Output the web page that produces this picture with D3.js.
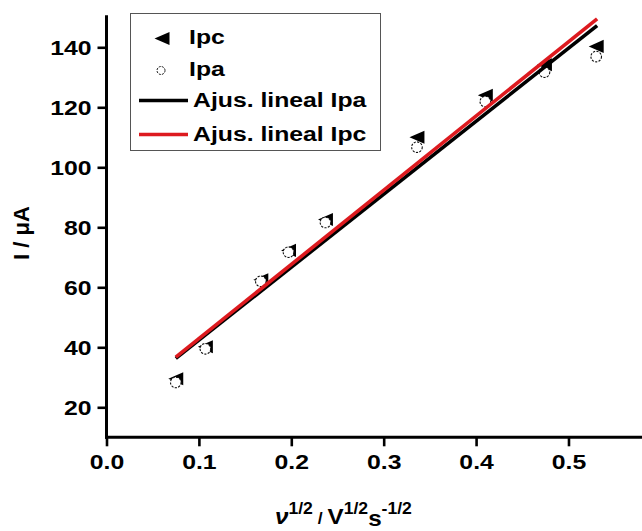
<!DOCTYPE html>
<html>
<head>
<meta charset="utf-8">
<script src="https://cdn.jsdelivr.net/npm/d3@7"></script>
<style>
  html, body { margin: 0; padding: 0; background: #fff; }
  svg { display: block; font-family: "Liberation Sans", Arial, sans-serif; font-weight: bold; }
</style>
</head>
<body>
<svg id="chart" width="642" height="531"></svg>
<script>
// ---- data ----
const xVals = [0.075, 0.107, 0.167, 0.197, 0.237, 0.336, 0.410, 0.474, 0.530];
const ipc   = [29.5, 40.2, 62.5, 72.3, 82.6, 110.0, 124.0, 134.2, 140.3];
const ipa   = [28.3, 39.5, 62.0, 71.7, 81.6, 106.7, 121.9, 131.7, 136.9];
// fitted lines (endpoints)
const fitX   = [0.075, 0.531];
const fitIpa = [36.3, 147.2];
const fitIpc = [36.7, 149.5];
const xTicks = [0, 0.1, 0.2, 0.3, 0.4, 0.5];
const xMinor = [0.05, 0.15, 0.25, 0.35, 0.45, 0.55];
const yTicks = [20, 40, 60, 80, 100, 120, 140];
const yMinor = [10, 30, 50, 70, 90, 110, 130, 150];
const legendLabels = ["Ipc", "Ipa", "Ajus. lineal Ipa", "Ajus. lineal Ipc"];

const svg = d3.select("#chart");
const x = d3.scaleLinear().domain([0, 0.58]).range([106.5, 642.4]);
const y = d3.scaleLinear().domain([10, 150]).range([437.3, 17.3]);
const SX = 1.18; // horizontal stretch of the reference text

// ---- axes ----
const gx = svg.append("g").attr("transform", `translate(0,${y(10)})`);
gx.call(d3.axisBottom(x).tickValues(xMinor).tickSize(5).tickFormat(""));
gx.call(d3.axisBottom(x).tickValues(xTicks).tickSize(9).tickFormat(d3.format(".1f")));
gx.selectAll(".domain").remove();
gx.selectAll("line").attr("stroke", "#000").attr("stroke-width", 2.6);
gx.selectAll("text").attr("y", 0).attr("dy", 0)
  .attr("font-size", 21).attr("font-weight", "bold").attr("fill", "#000")
  .attr("font-family", "Liberation Sans, Arial, sans-serif")
  .attr("transform", `translate(0,32) scale(${SX},1)`);

const gy = svg.append("g").attr("transform", `translate(${x(0)},0)`);
gy.call(d3.axisLeft(y).tickValues(yMinor).tickSize(5).tickFormat(""));
gy.call(d3.axisLeft(y).tickValues(yTicks).tickSize(9).tickFormat(d3.format("d")));
gy.selectAll(".domain").remove();
gy.selectAll("line").attr("stroke", "#000").attr("stroke-width", 2.6);
gy.selectAll("text").attr("x", 0).attr("dy", "0.35em")
  .attr("font-size", 21).attr("font-weight", "bold").attr("fill", "#000")
  .attr("font-family", "Liberation Sans, Arial, sans-serif")
  .attr("transform", `translate(-15,0) scale(${SX},1)`);

// axis lines
svg.append("line").attr("x1", x(0) - 1.5).attr("x2", x(0.58)).attr("y1", y(10)).attr("y2", y(10))
  .attr("stroke", "#000").attr("stroke-width", 3);
svg.append("line").attr("x1", x(0)).attr("x2", x(0)).attr("y1", y(10) + 1.5).attr("y2", y(150) - 2)
  .attr("stroke", "#000").attr("stroke-width", 3);

// ---- markers ----
const triLeft = {
  draw(ctx, size) {
    const w = Math.sqrt(size);
    ctx.moveTo(-w * 0.55, 0);
    ctx.lineTo(w * 0.55, -w * 0.48);
    ctx.lineTo(w * 0.55, w * 0.48);
    ctx.closePath();
  }
};
const triPath = d3.symbol().type(triLeft).size(185)();

const pts = xVals.map((v, i) => ({ x: v, ipc: ipc[i], ipa: ipa[i] }));

svg.append("g").selectAll("path").data(pts).join("path")
  .attr("d", triPath)
  .attr("transform", d => `translate(${x(d.x)},${y(d.ipc)})`)
  .attr("fill", "#000");

svg.append("g").selectAll("circle").data(pts).join("circle")
  .attr("cx", d => x(d.x)).attr("cy", d => y(d.ipa)).attr("r", 5.3)
  .attr("fill", "#fff").attr("stroke", "#111").attr("stroke-width", 1.1)
  .attr("stroke-dasharray", "2.2,1.3");

// ---- fitted lines ----
const lineGen = d3.line().x(d => x(d[0])).y(d => y(d[1]));
svg.append("path").attr("d", lineGen(fitX.map((v, i) => [v, fitIpa[i]])))
  .attr("fill", "none").attr("stroke", "#000").attr("stroke-width", 3.6);
svg.append("path").attr("d", lineGen(fitX.map((v, i) => [v, fitIpc[i]])))
  .attr("fill", "none").attr("stroke", "#dd1a1f").attr("stroke-width", 3.6);

// ---- legend ----
const lg = svg.append("g");
lg.append("rect").attr("x", 130.5).attr("y", 13.5).attr("width", 250).attr("height", 137)
  .attr("fill", "#fff").attr("stroke", "#555").attr("stroke-width", 1);
lg.append("path").attr("d", triPath).attr("transform", "translate(162,38.5)").attr("fill", "#000");
lg.append("circle").attr("cx", 161).attr("cy", 70.5).attr("r", 4)
  .attr("fill", "#fff").attr("stroke", "#111").attr("stroke-width", 1)
  .attr("stroke-dasharray", "2,1.2");
lg.append("line").attr("x1", 139).attr("x2", 188).attr("y1", 100.5).attr("y2", 100.5)
  .attr("stroke", "#000").attr("stroke-width", 3.6);
lg.append("line").attr("x1", 139).attr("x2", 188).attr("y1", 134.5).attr("y2", 134.5)
  .attr("stroke", "#dd1a1f").attr("stroke-width", 3.6);
const legPos = [[189, 43.5], [189, 75.5], [193, 107], [193, 140.5]];
legendLabels.forEach((t, i) => {
  lg.append("text").attr("transform", `translate(${legPos[i][0]},${legPos[i][1]}) scale(${SX},1)`)
    .attr("font-size", 21).attr("fill", "#000").text(t);
});

// ---- axis titles ----
svg.append("text")
  .attr("transform", `translate(29,233) rotate(-90)`)
  .attr("text-anchor", "middle").attr("font-size", 22).attr("fill", "#000")
  .text("I / μA");

const xt = svg.append("text")
  .attr("transform", `translate(275,524) scale(1.1,1)`)
  .attr("font-size", 22).attr("fill", "#000");
xt.append("tspan").attr("font-style", "italic").text("ν");
xt.append("tspan").attr("font-size", 16).attr("dy", -10).text("1/2");
xt.append("tspan").attr("font-size", 16).attr("dy", 10).text(" / ");
xt.append("tspan").text("V");
xt.append("tspan").attr("font-size", 16).attr("dy", -10).text("1/2");
xt.append("tspan").attr("dy", 2 + 10).text("s");
xt.append("tspan").attr("font-size", 16).attr("dy", -12).text("-1/2");
</script>
</body>
</html>
